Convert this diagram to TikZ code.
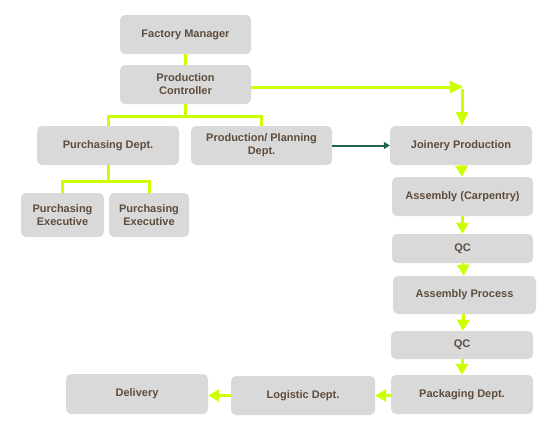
\documentclass[tikz,border=0pt]{standalone}
\usepackage{fontspec}
\setmainfont{Liberation Sans}
\usetikzlibrary{arrows.meta}
\definecolor{boxgray}{RGB}{217,217,217}
\definecolor{txt}{RGB}{94,76,60}
\definecolor{lime}{RGB}{204,255,0}
\definecolor{dgreen}{RGB}{30,100,80}
\tikzset{
  box/.style={fill=boxgray, rounded corners=5pt, inner sep=0pt, align=center,
    font=\fontsize{11}{13}\selectfont\bfseries, text=txt},
  link/.style={draw=lime, line width=3pt},
  flow/.style={draw=lime, line width=3pt, -{Triangle[width=12pt,length=11pt]}},
  bigflow/.style={draw=lime, line width=3pt, -{Triangle[width=12pt,length=14pt]}},
}
\newcommand{\bx}[6]{% name, x1, y1, x2, y2, text
  \node[box, minimum width=#4pt-#2pt, minimum height=#5pt-#3pt] (#1) at ({(#2+#4)/2},{(#3+#5)/2}) {#6};}
\begin{document}
\begin{tikzpicture}[x=1pt,y=-1pt]
\useasboundingbox (0,0) rectangle (542,423);
\bx{fm}{120}{15}{251}{54}{Factory Manager}
\bx{pc}{120}{65}{251}{104}{Production\\Controller}
\bx{pd}{37}{126}{179}{165}{Purchasing Dept.}
\bx{pp}{191}{126}{332}{165}{Production/ Planning\\Dept.}
\bx{jp}{390}{126}{532}{165}{Joinery Production}
\bx{ac}{392}{177}{533}{216}{Assembly (Carpentry)}
\bx{qa}{392}{234}{533}{263}{QC}
\bx{ap}{393}{276}{536}{314}{Assembly Process}
\bx{qb}{391}{331}{533}{359}{QC}
\bx{pk}{391}{375}{533}{414}{Packaging Dept.}
\bx{lg}{231}{376}{375}{415}{Logistic Dept.}
\bx{dl}{66}{374}{208}{414}{Delivery}
\bx{pea}{21}{193}{104}{237}{Purchasing\\Executive}
\bx{peb}{109}{193}{189}{237}{Purchasing\\Executive}
% coordinates
\coordinate (j1) at (185.5,116);
\coordinate (j2) at (108,181);
\coordinate (corner) at (462,87);
% tree links
\draw[link] (fm) -- (pc);
\draw[link] (pc.south) -- (j1);
\draw[link] (pd.north) |- (j1) -| (pp.north);
\draw[link] (pd.south) -- (j2);
\draw[link] (pea.north) |- (j2) -| (peb.north);
% controller to joinery
\draw[bigflow] (pc.east |- corner) -- ([xshift=1.5pt]corner);
\draw[bigflow] ([yshift=-1.5pt]corner) -- (corner |- jp.north);
% planning to joinery
\draw[draw=dgreen, line width=2pt, -{Triangle[width=7pt,length=6pt]}] (pp.east) -- (jp.west);
% chain
\draw[flow] (jp) -- (ac);
\draw[flow] (ac) -- (qa);
\draw[flow] (qa) -- (ap);
\draw[flow] (ap) -- (qb);
\draw[flow] (qb) -- (pk);
\draw[flow] (pk.west |- lg) -- (lg.east);
\draw[flow] (lg.west) -- (dl.east |- lg);
\end{tikzpicture}
\end{document}
